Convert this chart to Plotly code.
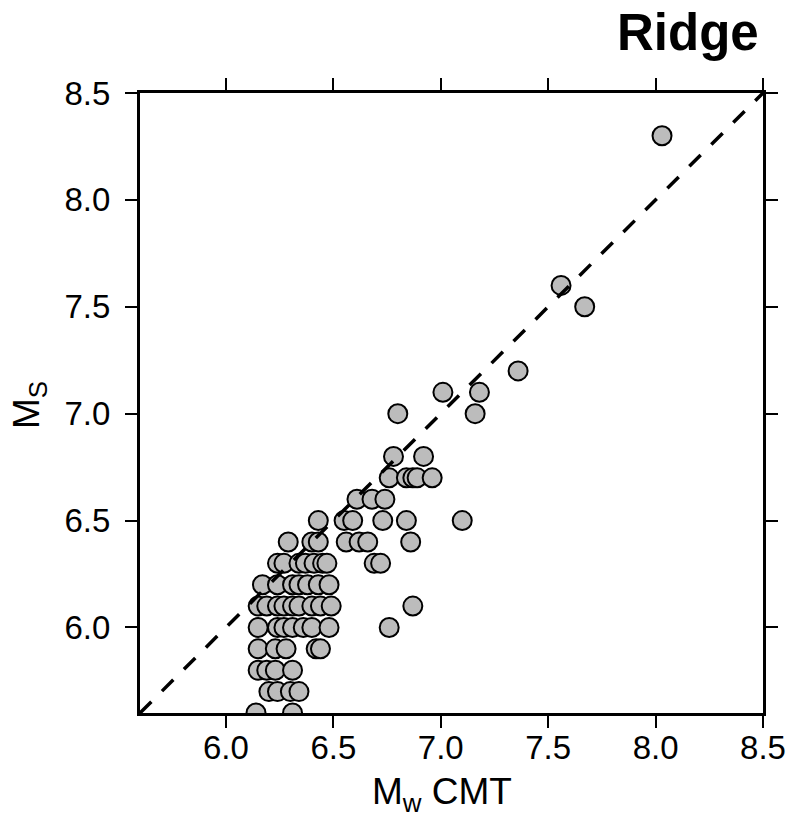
import plotly.graph_objects as go

# Mw CMT (x) and Ms (y) values
mw = [8.03, 7.56, 7.67, 7.36,
      7.01, 7.18,
      6.80, 7.16,
      6.78, 6.92,
      6.76, 6.84, 6.87, 6.89, 6.96,
      6.61, 6.68, 6.74,
      6.43, 6.55, 6.59, 6.73, 6.84, 7.10,
      6.29, 6.40, 6.43, 6.56, 6.62, 6.66, 6.86,
      6.24, 6.27, 6.34, 6.37, 6.41, 6.45, 6.47, 6.69, 6.72,
      6.17, 6.24, 6.31, 6.34, 6.38, 6.43, 6.48,
      6.15, 6.19, 6.24, 6.27, 6.31, 6.34, 6.40, 6.44, 6.49, 6.87,
      6.15, 6.24, 6.27, 6.31, 6.36, 6.40, 6.48, 6.76,
      6.15, 6.23, 6.28, 6.42, 6.44,
      6.15, 6.19, 6.23, 6.31,
      6.20, 6.24, 6.30, 6.34,
      6.14, 6.31]
ms = [8.3, 7.6, 7.5, 7.2,
      7.1, 7.1,
      7.0, 7.0,
      6.8, 6.8,
      6.7, 6.7, 6.7, 6.7, 6.7,
      6.6, 6.6, 6.6,
      6.5, 6.5, 6.5, 6.5, 6.5, 6.5,
      6.4, 6.4, 6.4, 6.4, 6.4, 6.4, 6.4,
      6.3, 6.3, 6.3, 6.3, 6.3, 6.3, 6.3, 6.3, 6.3,
      6.2, 6.2, 6.2, 6.2, 6.2, 6.2, 6.2,
      6.1, 6.1, 6.1, 6.1, 6.1, 6.1, 6.1, 6.1, 6.1, 6.1,
      6.0, 6.0, 6.0, 6.0, 6.0, 6.0, 6.0, 6.0,
      5.9, 5.9, 5.9, 5.9, 5.9,
      5.8, 5.8, 5.8, 5.8,
      5.7, 5.7, 5.7, 5.7,
      5.6, 5.6]

line_x = [5.6, 8.5]
line_y = [5.6, 8.5]

tick_vals = [6.0, 6.5, 7.0, 7.5, 8.0, 8.5]
tick_text = ["6.0", "6.5", "7.0", "7.5", "8.0", "8.5"]

FONT = "Liberation Sans, Arial, Helvetica, sans-serif"

fig = go.Figure()
fig.add_trace(go.Scatter(
    x=mw, y=ms, mode="markers",
    marker=dict(size=19, color="#bcbcbc", line=dict(color="black", width=2)),
    showlegend=False, hoverinfo="skip"))
fig.add_trace(go.Scatter(
    x=line_x, y=line_y, mode="lines",
    line=dict(color="black", width=3.5, dash="16px,15px"),
    showlegend=False, hoverinfo="skip"))

def axis(standoff):
    return dict(
        range=[5.6, 8.5], tickvals=tick_vals, ticktext=tick_text,
        showline=True, linecolor="black", linewidth=3, mirror="ticks",
        ticks="outside", ticklen=12, tickwidth=2, tickcolor="black",
        showgrid=False, zeroline=False, automargin=False,
        ticklabelstandoff=standoff,
        tickfont=dict(family=FONT, size=33, color="black"))

# page body has an 8px default margin, so the figure is sized to fit it
fig.update_layout(
    width=788, height=822,
    margin=dict(l=132, r=33, t=85, b=117),
    paper_bgcolor="white", plot_bgcolor="white",
    xaxis=axis(-9), yaxis=axis(8),
    annotations=[
        dict(text="<b>Ridge</b>", xref="paper", yref="paper", x=1, y=1,
             xanchor="right", yanchor="bottom", xshift=-3, yshift=31,
             borderpad=0,
             showarrow=False, font=dict(family=FONT, size=51, color="black")),
        dict(text="M<sub>w</sub> CMT", xref="paper", yref="paper", x=0.485, y=0,
             xanchor="center", yanchor="top", yshift=-56,
             showarrow=False, font=dict(family=FONT, size=37, color="black")),
        dict(text="M<sub>S</sub>", xref="paper", yref="paper", x=0, y=0.5,
             xanchor="center", yanchor="middle", xshift=-111, yshift=-2,
             textangle=-90, borderpad=0,
             showarrow=False, font=dict(family=FONT, size=37, color="black")),
    ])

fig.write_html("out.html")
